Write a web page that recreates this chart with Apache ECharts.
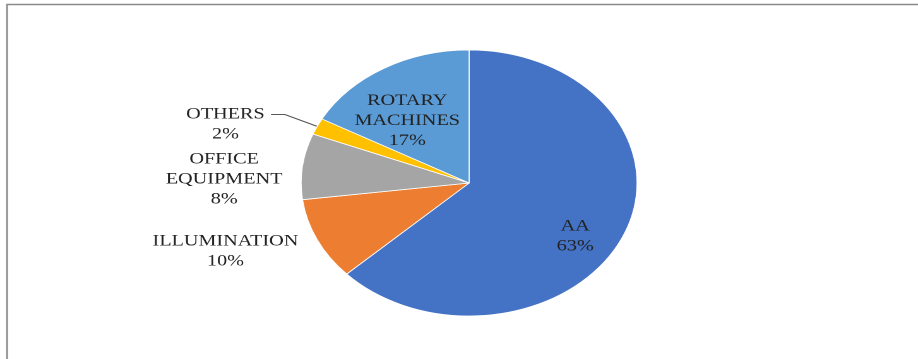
<!DOCTYPE html>
<html>
<head>
<meta charset="utf-8">
<script src="https://cdn.jsdelivr.net/npm/echarts@6/dist/echarts.min.js"></script>
<style>
  html, body { margin: 0; padding: 0; background: #fff; overflow: hidden; }
  #wrap { width: 918px; height: 359px; overflow: hidden; position: relative; }
  /* the chart is laid out at a narrower width and widened horizontally */
  #chart { width: 727px; height: 359px; transform: scaleX(1.2627); transform-origin: 0 0; }
</style>
</head>
<body>
<div id="wrap"><div id="chart"></div></div>
<script>
// Share of consumption by load type (percent)
const categories = ['AA', 'ILLUMINATION', 'OFFICE EQUIPMENT', 'OTHERS', 'ROTARY MACHINES'];
const shares = [63, 10, 8, 2, 17];
const colors = ['#4472C4', '#ED7D31', '#A5A5A5', '#FFC000', '#5B9BD5'];

// pie geometry
const cx = 371.5, cy = 183, radius = 133;
// label block centres, relative to the pie centre
const labelOffsets = [[84, 53.5], [-193, 68.5], [-194, -3.5], [-193, -58.5], [-49, -62]];
const LINE_H = 20;

const chart = echarts.init(document.getElementById('chart'), null, { renderer: 'canvas', devicePixelRatio: 2 });

chart.setOption({
  animation: false,
  backgroundColor: '#fff',
  graphic: [{
    type: 'rect',
    shape: { x: 5.6, y: 4.5, width: 900, height: 500 },
    style: { fill: 'none', stroke: '#8a8a8a', lineWidth: 1.4 },
    silent: true
  }],
  series: [{
    type: 'pie',
    center: [cx, cy],
    radius: [0, radius],
    startAngle: 90,
    clockwise: true,
    avoidLabelOverlap: false,
    itemStyle: { borderColor: '#ffffff', borderWidth: 0.8 },
    label: {
      show: true,
      position: 'outside',
      fontFamily: '"Liberation Serif", "Times New Roman", serif',
      fontSize: 16,
      lineHeight: LINE_H,
      color: '#222222',
      align: 'center',
      formatter: p => p.name.replace(' ', '\n') + '\n' + p.value + '%'
    },
    labelLine: { show: false },
    labelLayout: params => {
      const o = labelOffsets[params.dataIndex];
      const x = cx + o[0], y = cy + o[1];
      const res = { x: x, y: y, align: 'center', verticalAlign: 'middle' };
      const pts = params.labelLinePoints;
      if (pts && categories[params.dataIndex] === 'OTHERS') {
        // leader leaves the first text line horizontally, then bends to the slice
        const w = params.labelRect.width, h = params.labelRect.height;
        const endX = x + w / 2 + 5;
        const endY = y - h / 2 + LINE_H / 2;
        res.labelLinePoints = [pts[0], [endX + 11, endY], [endX, endY]];
      }
      return res;
    },
    data: categories.map((name, i) => ({
      name: name,
      value: shares[i],
      itemStyle: { color: colors[i] },
      labelLine: name === 'OTHERS'
        ? { show: true, length: 8, length2: 12, lineStyle: { color: '#595959', width: 1.1 } }
        : { show: false }
    }))
  }]
});
</script>
</body>
</html>
